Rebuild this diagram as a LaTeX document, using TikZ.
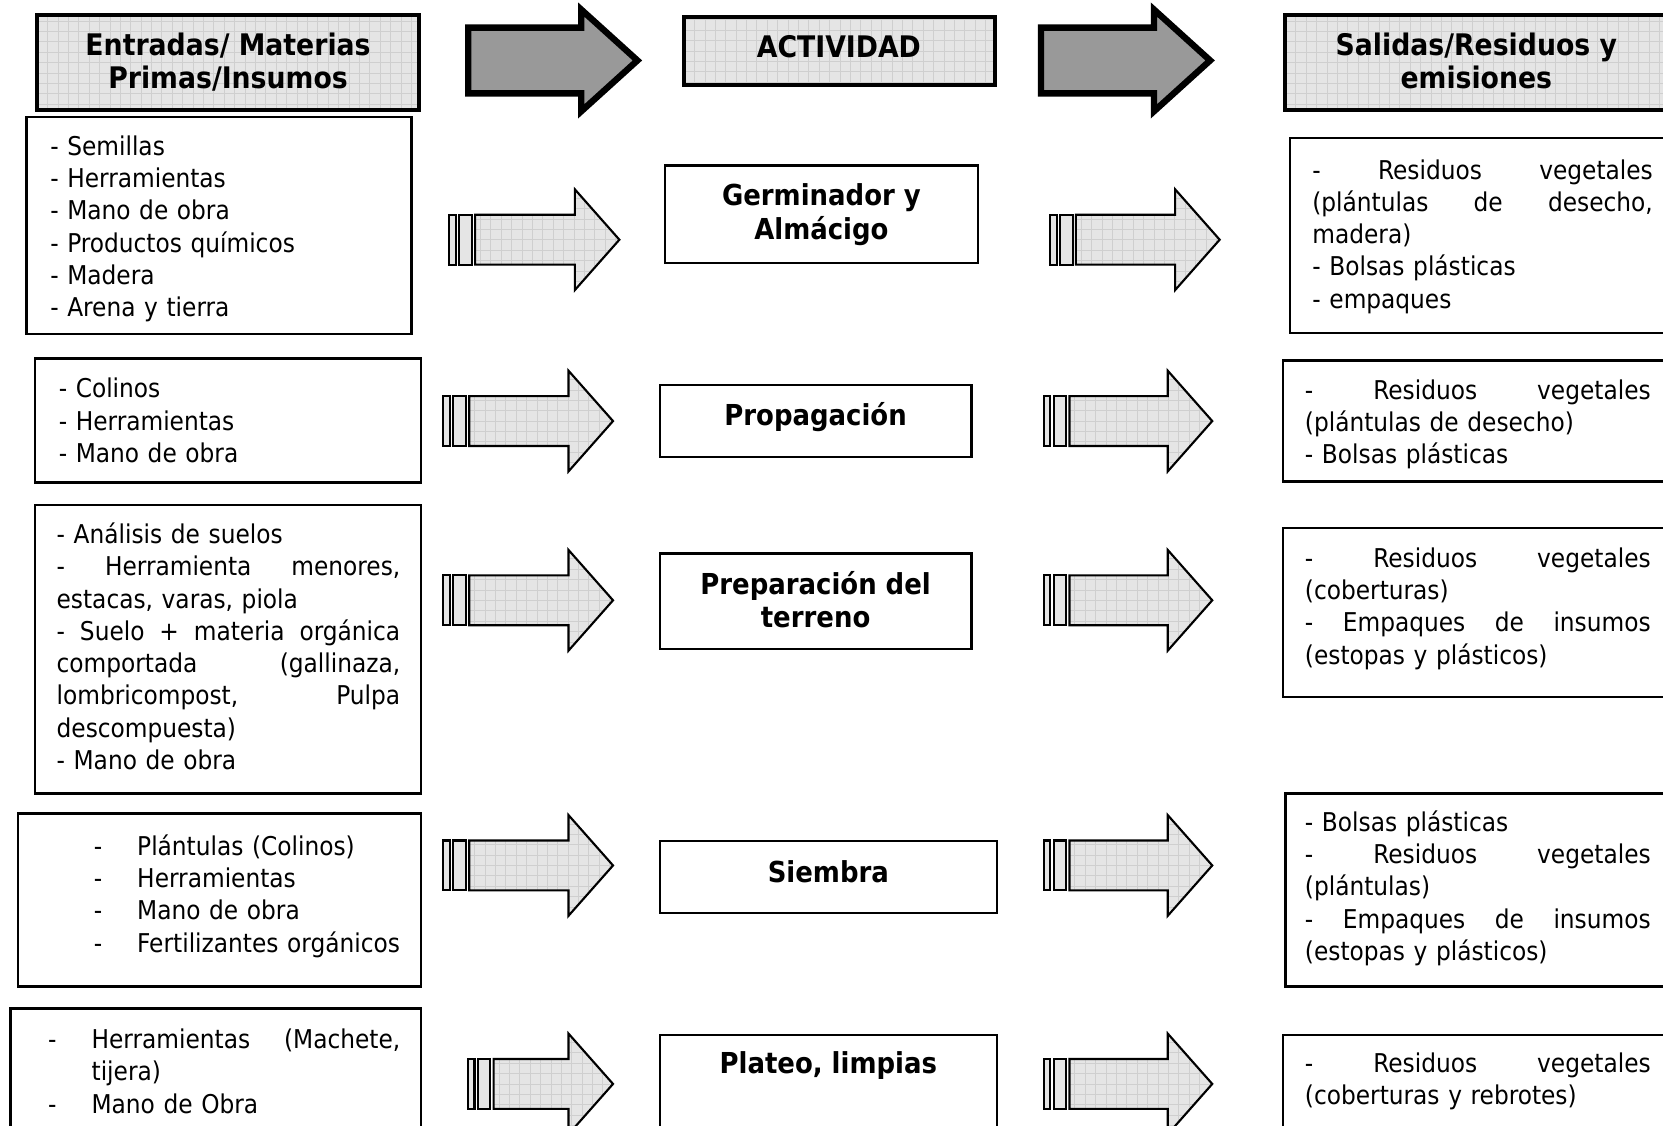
\documentclass[tikz,border=0pt]{standalone}
\usepackage{fontspec}
\setmainfont{DejaVu Sans Condensed}
\usetikzlibrary{fit}
\newcommand\bodyfont{\fontsize{12.2pt}{15.2pt}\selectfont}
\newcommand\headfont{\fontsize{14pt}{15.7pt}\selectfont\bfseries}
\newcommand\actfont{\fontsize{13.6pt}{16pt}\selectfont\bfseries}
\newlength\jw
\newcommand\jline[1]{\makebox[\jw][s]{\spaceskip=0pt\xspaceskip=0pt #1}}
\newcommand\dsh{\makebox[20.5pt][l]{-}}
\tikzset{
  patfill/.style={fill=black!10, path picture={\draw[black!19,line width=0.35pt,step=4.9pt] (path picture bounding box.south west) grid (path picture bounding box.north east);}},
  hdrbox/.style={draw, line width=1.9pt, patfill, inner sep=0pt},
  thinbox/.style={draw, line width=1.1pt, inner sep=0pt},
  txt/.style={inner sep=0pt, font=\bodyfont, align=left, anchor=west, yshift=-1.75pt},
  hdrtxt/.style={inner sep=0pt, font=\headfont, align=center, yshift=-1.6pt},
  acttxt/.style={inner sep=0pt, font=\actfont, align=center, yshift=-1.6pt},
  smallpart/.style={draw, line width=1pt, patfill, line join=miter},
  barpart/.style={draw, line width=1pt, fill=black!10},
  bigpart/.style={draw, line width=3pt, fill=black!40, line join=miter},
  smallarr/.pic={
    \path[barpart] (0,-23.5) rectangle (6.4,23.5);
    \path[barpart] (9.4,-23.5) rectangle (21.4,23.5);
    \path[smallpart] (24.4,-23.5) -- ({#1-42},-23.5) -- ({#1-42},-47.5) -- (#1,0) -- ({#1-42},47.5) -- ({#1-42},23.5) -- (24.4,23.5) -- cycle;
  },
  bigarr/.pic={
    \path[bigpart] (0,-31) -- (106.5,-31) -- (106.5,-48) -- (159.5,0) -- (106.5,48) -- (106.5,31) -- (0,31) -- cycle;
  }
}
\begin{document}
\begin{tikzpicture}[x=0.5pt,y=-0.5pt]
\useasboundingbox (0,0) rectangle (1568,1061);
\clip (0,0) rectangle (1568,1061);

% headers
\node[hdrbox, fit={(35,14) (395,104)}] (H1) {};
\node[hdrtxt] (H1t) at (215,58.5) {\strut Entradas/ Materias\\Primas/Insumos\strut};
\node[hdrbox, fit={(645,16) (938,80)}] (H2) {};
\node[hdrtxt] (H2t) at (791,45) {\strut ACTIVIDAD\strut};
\node[hdrbox, fit={(1212,14) (1640,104)}] (H3) {};
\node[hdrtxt] (H3t) at (1392,58.5) {\strut Salidas/Residuos y\\emisiones\strut};

\pic (big1) at (441.5,57) {bigarr};
\pic (big2) at (981.5,57) {bigarr};

% left column
\node[thinbox, fit={(25,110) (388,315)}] (L1) {};
\node[txt, text width=160pt] (L1t) at (47,213) {\strut- Semillas\\- Herramientas\\- Mano de obra\\- Productos químicos\\- Madera\\- Arena y tierra\strut};

\node[thinbox, fit={(33,338) (397,455)}] (L2) {};
\node[txt, text width=160pt] (L2t) at (55,396) {\strut- Colinos\\- Herramientas\\- Mano de obra\strut};

\node[thinbox, fit={(33,476) (397,748)}] (L3) {};
\node[txt, text width=162pt] (L3t) at (53,609.5) {\setlength\jw{162pt}\strut- Análisis de suelos\\\jline{- Herramienta menores,}\\estacas, varas, piola\\\jline{- Suelo + materia orgánica}\\\jline{comportada (gallinaza,}\\\jline{lombricompost, Pulpa}\\descompuesta)\\- Mano de obra\strut};

\node[thinbox, fit={(17,767) (397,930)}] (L4) {};
\node[txt, text width=150pt] (L4t) at (88,842.5) {\strut\dsh Plántulas (Colinos)\\\dsh Herramientas\\\dsh Mano de obra\\\dsh Fertilizantes orgánicos\strut};

\node[thinbox, fit={(10,951) (397,1100)}] (L5) {};
\node[txt, text width=166pt] (L5t) at (45,1009.5) {\setlength\jw{145.5pt}\strut\dsh\jline{Herramientas (Machete,}\\\hspace*{20.5pt}tijera)\\\dsh Mano de Obra\strut};

% activities
\node[thinbox, fit={(627,156) (922,248)}] (A1) {};
\node[acttxt] (A1t) at (774.5,200) {\strut Germinador y\\Almácigo\strut};
\node[thinbox, fit={(622,363) (916,431)}] (A2) {};
\node[acttxt] (A2t) at (769,392) {\strut Propagación\strut};
\node[thinbox, fit={(622,522) (916,612)}] (A3) {};
\node[acttxt] (A3t) at (769,566.5) {\strut Preparación del\\terreno\strut};
\node[thinbox, fit={(622,793) (940,861)}] (A4) {};
\node[acttxt] (A4t) at (781,822) {\strut Siembra\strut};
\node[thinbox, fit={(622,976) (940,1100)}] (A5) {};
\node[acttxt] (A5t) at (781,1003) {\strut Plateo, limpias\strut};

% right column
\node[thinbox, fit={(1216,130) (1640,314)}] (R1) {};
\node[txt, text width=160.5pt] (R1t) at (1237,220.2) {\setlength\jw{160.5pt}\strut\jline{- Residuos vegetales}\\\jline{(plántulas de desecho,}\\madera)\\- Bolsas plásticas\\- empaques\strut};

\node[thinbox, fit={(1210,340) (1640,454)}] (R2) {};
\node[txt, text width=163pt] (R2t) at (1230,397.3) {\setlength\jw{163pt}\strut\jline{- Residuos vegetales}\\(plántulas de desecho)\\- Bolsas plásticas\strut};

\node[thinbox, fit={(1210,498) (1640,657)}] (R3) {};
\node[txt, text width=163pt] (R3t) at (1230,571) {\setlength\jw{163pt}\strut\jline{- Residuos vegetales}\\(coberturas)\\\jline{- Empaques de insumos}\\(estopas y plásticos)\strut};

\node[thinbox, fit={(1212,748) (1640,930)}] (R4) {};
\node[txt, text width=163pt] (R4t) at (1230,835.2) {\setlength\jw{163pt}\strut- Bolsas plásticas\\\jline{- Residuos vegetales}\\(plántulas)\\\jline{- Empaques de insumos}\\(estopas y plásticos)\strut};

\node[thinbox, fit={(1210,976) (1640,1100)}] (R5) {};
\node[txt, text width=163pt] (R5t) at (1230,1016.5) {\setlength\jw{163pt}\strut\jline{- Residuos vegetales}\\(coberturas y rebrotes)\strut};

% small arrows
\pic (in1) at (423.6,226) {smallarr=160.4};
\pic (out1) at (990,226) {smallarr=160};
\pic (in2) at (418,397) {smallarr=160};
\pic (out2) at (984,397) {smallarr=159};
\pic (in3) at (418,566) {smallarr=160};
\pic (out3) at (984,566) {smallarr=159};
\pic (in4) at (418,816) {smallarr=160};
\pic (out4) at (984,816) {smallarr=159};
\pic (in5) at (441,1022) {smallarr=137};
\pic (out5) at (984,1022) {smallarr=159};
\end{tikzpicture}
\end{document}
